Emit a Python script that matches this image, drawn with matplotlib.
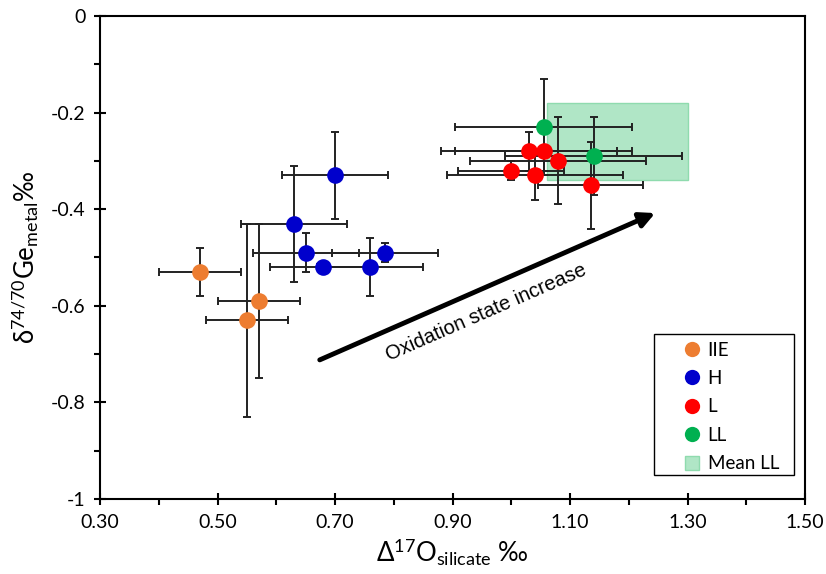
import matplotlib
matplotlib.use("Agg")
import matplotlib.pyplot as plt
from matplotlib import ticker
from matplotlib.lines import Line2D
from matplotlib.patches import Patch, Rectangle

plt.rcParams["font.family"] = ["Lato", "DejaVu Sans"]
plt.rcParams["mathtext.fontset"] = "custom"
plt.rcParams["mathtext.rm"] = "Lato"
plt.rcParams["mathtext.it"] = "Lato:italic"
plt.rcParams["mathtext.bf"] = "Lato:bold"

# IIE irons
iie_x = [0.47, 0.57, 0.55]
iie_y = [-0.53, -0.59, -0.63]
iie_xerr = [0.07, 0.07, 0.07]
iie_yerr = [0.05, 0.16, 0.20]

# H chondrites
h_x = [0.70, 0.63, 0.65, 0.785, 0.68, 0.76]
h_y = [-0.33, -0.43, -0.49, -0.49, -0.52, -0.52]
h_xerr = [0.09, 0.09, 0.09, 0.09, 0.09, 0.09]
h_yerr = [0.09, 0.12, 0.04, 0.02, 0.0, 0.06]

# L chondrites
l_x = [1.03, 1.055, 1.08, 1.00, 1.04, 1.135]
l_y = [-0.28, -0.28, -0.30, -0.32, -0.33, -0.35]
l_xerr = [0.15, 0.15, 0.15, 0.09, 0.15, 0.09]
l_yerr = [0.04, 0.04, 0.09, 0.02, 0.05, 0.09]

# LL chondrites
ll_x = [1.055, 1.14]
ll_y = [-0.23, -0.29]
ll_xerr = [0.15, 0.15]
ll_yerr = [0.10, 0.08]

# mean LL box
mean_ll_x = [1.06, 1.30]
mean_ll_y = [-0.34, -0.18]

x_ticks = [0.30, 0.50, 0.70, 0.90, 1.10, 1.30, 1.50]
x_minor = [0.40, 0.60, 0.80, 1.00, 1.20, 1.40]
y_ticks = [-1, -0.8, -0.6, -0.4, -0.2, 0]
y_labels = ["-1", "-0.8", "-0.6", "-0.4", "-0.2", "0"]

groups = [
    ("IIE", iie_x, iie_y, iie_xerr, iie_yerr, "#ED7D31"),
    ("H", h_x, h_y, h_xerr, h_yerr, "#0000CC"),
    ("L", l_x, l_y, l_xerr, l_yerr, "#FF0000"),
    ("LL", ll_x, ll_y, ll_xerr, ll_yerr, "#00B050"),
]
box_face, box_edge = "#B0E6C6", "#8FDBAE"

fig = plt.figure(figsize=(8.26, 5.74), dpi=100)
ax = fig.add_axes([0.1211, 0.1307, 0.8535, 0.8414])

ax.add_patch(Rectangle((mean_ll_x[0], mean_ll_y[0]),
                       mean_ll_x[1] - mean_ll_x[0], mean_ll_y[1] - mean_ll_y[0],
                       facecolor=box_face, edgecolor=box_edge, lw=1, zorder=1))

for name, xs, ys, xe, ye, col in groups:
    ax.errorbar(xs, ys, xerr=xe, yerr=ye, fmt="none", ecolor="#222222",
                elinewidth=1.4, capsize=3, capthick=1.4, zorder=2)
for name, xs, ys, xe, ye, col in groups:
    ax.plot(xs, ys, "o", color=col, markersize=12, markeredgewidth=0, zorder=3)

# arrow + annotation
ax.annotate("", xy=(1.245, -0.408), xytext=(0.674, -0.712),
            arrowprops=dict(arrowstyle="-|>,head_length=0.9,head_width=0.45",
                            color="black", lw=3.5, shrinkA=0, shrinkB=0), zorder=4)
ax.text(0.958, -0.614, "Oxidation state increase", rotation=23.6,
        ha="center", va="center", fontsize=14.5, rotation_mode="anchor",
        family="Liberation Sans")

ax.set_xlim(0.30, 1.50)
ax.set_ylim(-1, 0)
ax.set_xticks(x_ticks)
ax.set_xticks(x_minor, minor=True)
ax.set_xticklabels([f"{v:.2f}" for v in x_ticks])
ax.set_yticks(y_ticks)
ax.set_yticklabels(y_labels)
ax.yaxis.set_minor_locator(ticker.MultipleLocator(0.1))

for s in ax.spines.values():
    s.set_linewidth(1.5)
ax.tick_params(which="major", direction="inout", length=9, width=1.5, labelsize=14, pad=6)
ax.tick_params(which="minor", direction="out", length=4, width=1.5)

ax.set_xlabel(r"$\Delta^{17}\mathrm{O}_{\mathrm{silicate}}$ ‰", fontsize=18.5, labelpad=4)
ax.set_ylabel(r"$\mathrm{\delta}^{74/70}\mathrm{Ge}_{\mathrm{metal}}$‰", fontsize=18.5, labelpad=8)

# legend: entries without frame, plus a plain box drawn around them
handles = [Line2D([], [], marker="o", ls="none", color=col, markersize=11,
                  markeredgewidth=0, label=name) for name, *_, col in groups]
handles.append(Patch(facecolor=box_face, edgecolor=box_edge, label="Mean LL"))
ax.legend(handles=handles, loc="upper left", bbox_to_anchor=(0.830, 0.326),
          fontsize=13.5, frameon=False, labelspacing=0.61,
          handlelength=0.75, handleheight=0.75, handletextpad=0.45,
          borderpad=0, borderaxespad=0)
ax.add_patch(Rectangle((0.786, 0.0497), 0.198, 0.292, transform=ax.transAxes,
                       fill=False, edgecolor="black", lw=1.0, zorder=5))

fig.savefig("out.png", dpi=100)
